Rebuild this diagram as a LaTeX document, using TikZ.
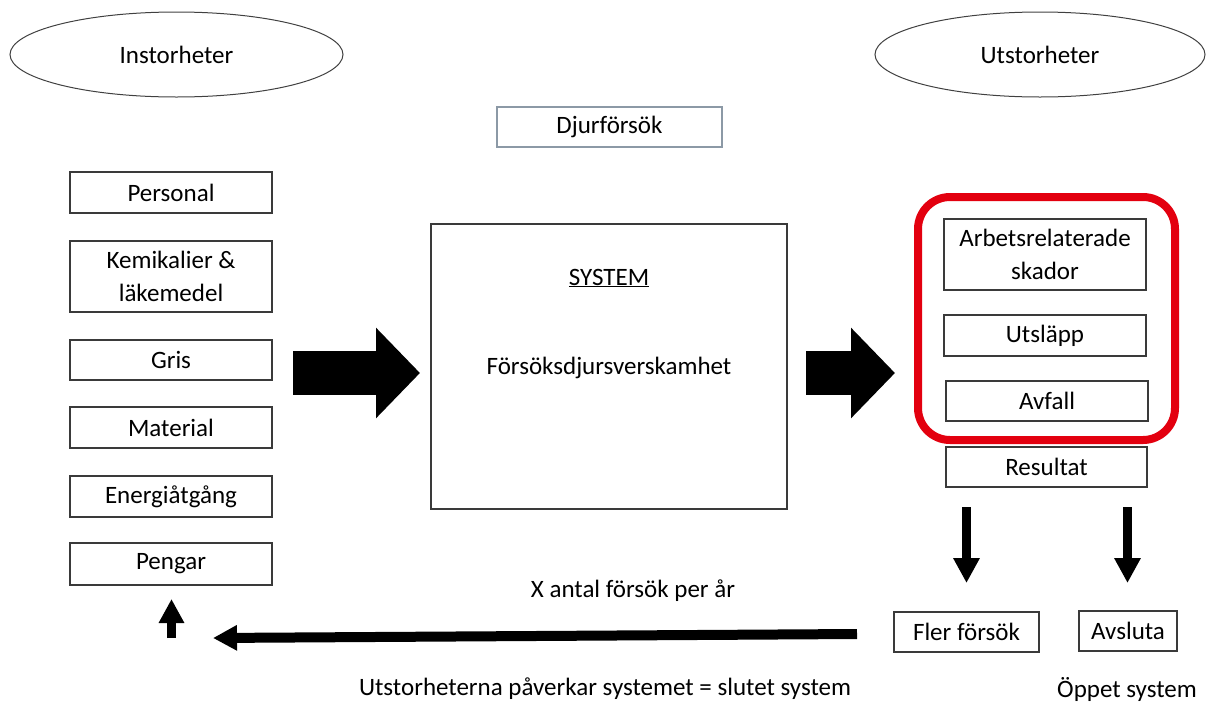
\documentclass[tikz,border=0pt]{standalone}
\usepackage{fontspec}
\setmainfont{Carlito}
\usetikzlibrary{arrows.meta,shapes.geometric}
\newcommand\fnt{\fontsize{25}{33}\selectfont}
\definecolor{boxline}{HTML}{3A3A3A}
\definecolor{bluegray}{HTML}{8C99A6}
\definecolor{redline}{HTML}{E3000F}
\tikzset{
  bx/.style={draw=boxline, line width=1.2pt, inner sep=0pt, align=center, font=\fnt},
  ell/.style={draw=black!75, line width=1pt, ellipse, inner sep=0pt, font=\fnt},
  txt/.style={inner sep=0pt, font=\fnt},
  blockarrow/.style={line width=#1, -{Triangle[width=2*#1, length=#1]}},
  thinarrow/.style={line width=#1, -{Triangle[width=24pt, length=24pt]}},
}
\begin{document}
\begin{tikzpicture}[x=1pt,y=-1pt]
\useasboundingbox (0,0) rectangle (1211,702);
% ellipses
\node[ell, minimum width=333, minimum height=85] (in) at (176.5,54.5) {Instorheter};
\node[ell, minimum width=330, minimum height=85] (ut) at (1040,54.5) {Utstorheter};
% title box
\node[bx, draw=bluegray, minimum width=225, minimum height=40] (djur) at (609.5,127) {Djurförsök};
% left input boxes
\node[bx, minimum width=202, minimum height=41] (pers) at (171,192.5) {Personal};
\node[bx, minimum width=202, minimum height=71] (kem) at (171,276.5) {Kemikalier \&\\läkemedel};
\node[bx, minimum width=202, minimum height=40] (gris) at (171,360) {Gris};
\node[bx, minimum width=202, minimum height=41] (mat) at (171,427.5) {Material};
\node[bx, minimum width=202, minimum height=41] (ener) at (171,496.5) {Energiåtgång};
\node[bx, minimum width=202, minimum height=42] (peng) at (171,564) {Pengar};
% system box
\node[bx, minimum width=356, minimum height=285] (sys) at (609,366.5) {};
\node[txt] (systitle) at (609,278) {\underline{SYSTEM}};
\node[txt] (sysname) at (609,368) {Försöksdjursverskamhet};
% output boxes
\node[draw=redline, line width=8pt, rounded corners=32pt, minimum width=257, minimum height=243, inner sep=0pt] (red) at (1046.5,318.5) {};
\node[bx, minimum width=202, minimum height=71] (arb) at (1045,254.5) {Arbetsrelaterade\\skador};
\node[bx, minimum width=202, minimum height=41] (utsl) at (1045,335.5) {Utsläpp};
\node[bx, minimum width=202, minimum height=40] (avf) at (1047,401) {Avfall};
\node[bx, minimum width=201, minimum height=40] (res) at (1046.5,467) {Resultat};
\node[bx, minimum width=145, minimum height=40] (fler) at (966.5,632) {Fler försök};
\node[bx, minimum width=98, minimum height=40] (avsl) at (1128,631) {Avsluta};
% labels
\node[txt] (xant) at (633,591) {X antal försök per år};
\node[txt] (slut) at (605,689) {Utstorheterna påverkar systemet = slutet system};
\node[txt] (oppet) at (1127,689) {Öppet system};
% arrows
\coordinate (a1s) at (293,373);
\coordinate (a1e) at (420,373);
\coordinate (a2s) at (806,373);
\coordinate (a2e) at (895,373);
\draw[blockarrow=44pt] (a1s) -- (a1e);
\draw[blockarrow=44pt] (a2s) -- (a2e);
\coordinate (d1s) at (966.5,507);
\coordinate (d1e) at (966.5,583);
\coordinate (d2s) at (1127.5,507);
\coordinate (d2e) at (1127.5,583);
\draw[line width=9pt, -{Triangle[width=25pt, length=25pt]}] (d1s) -- (d1e);
\draw[line width=9pt, -{Triangle[width=25pt, length=25pt]}] (d2s) -- (d2e);
\coordinate (ls) at (857,634);
\coordinate (le) at (213,638);
\draw[line width=10pt, -{Triangle[width=24pt, length=24pt]}] (ls) -- (le);
\coordinate (us) at (171.5,638);
\coordinate (ue) at (171.5,599);
\draw[line width=9pt, -{Triangle[width=24pt, length=24pt]}] (us) -- (ue);
\end{tikzpicture}
\end{document}
